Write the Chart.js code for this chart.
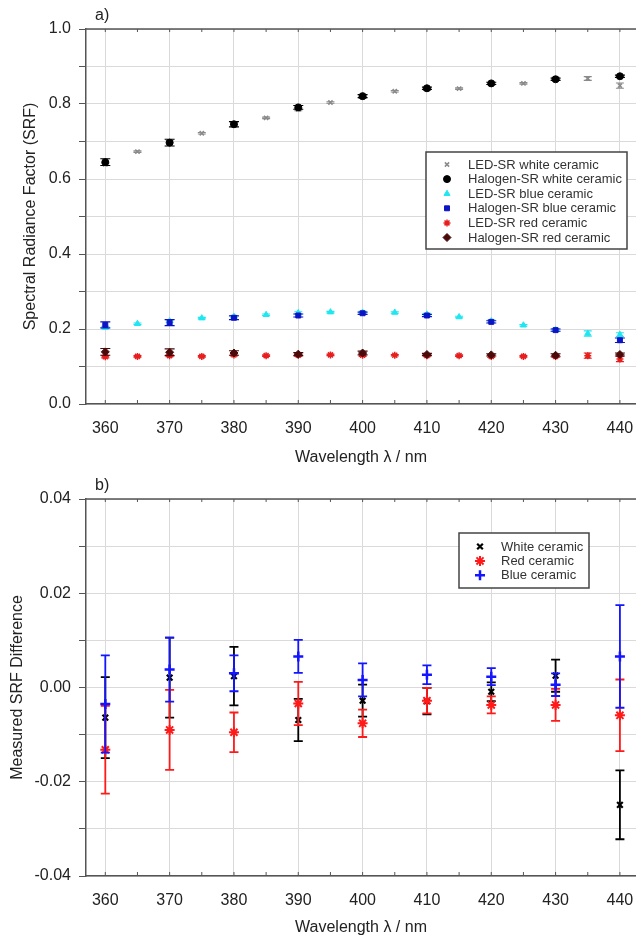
<!DOCTYPE html>
<html>
<head>
<meta charset="utf-8">
<script src="https://cdn.jsdelivr.net/npm/chart.js@4.4.1/dist/chart.umd.min.js"></script>
<style>
html, body { margin: 0; padding: 0; background: #fff; }
#panelA { position: absolute; left: 0; top: 0; width: 636px; height: 470px; }
#panelB { position: absolute; left: 0; top: 470px; width: 636px; height: 467px; }
</style>
</head>
<body>
<div id="panelA"><canvas id="srfChart"></canvas></div>
<div id="panelB"><canvas id="diffChart"></canvas></div>
<script>
// wavelengths (nm)
const ledWl = [360, 365, 370, 375, 380, 385, 390, 395, 400, 405, 410, 415, 420, 425, 430, 435, 440];
const halWl = [360, 370, 380, 390, 400, 410, 420, 430, 440];
const wlTicks = [360, 365, 370, 375, 380, 385, 390, 395, 400, 405, 410, 415, 420, 425, 430, 435, 440];

// a) spectral radiance factor, LED-SR every 5 nm, halogen-SR every 10 nm
const ledWhite = [0.639, 0.673, 0.699, 0.722, 0.748, 0.763, 0.785, 0.804, 0.818, 0.834, 0.839, 0.841, 0.854, 0.855, 0.868, 0.868, 0.849];
const ledWhiteErr = [0.003, 0.002, 0.003, 0.002, 0.003, 0.002, 0.003, 0.002, 0.003, 0.002, 0.003, 0.002, 0.003, 0.002, 0.003, 0.005, 0.007];
const halWhite = [0.645, 0.697, 0.746, 0.791, 0.821, 0.842, 0.855, 0.866, 0.874];
const halWhiteErr = [0.009, 0.009, 0.007, 0.005, 0.004, 0.003, 0.003, 0.003, 0.003];

const ledBlue = [0.204, 0.214, 0.221, 0.229, 0.233, 0.238, 0.243, 0.245, 0.244, 0.244, 0.239, 0.232, 0.221, 0.210, 0.198, 0.188, 0.185];
const ledBlueErr = [0.003, 0.002, 0.003, 0.002, 0.003, 0.002, 0.003, 0.002, 0.003, 0.002, 0.003, 0.002, 0.003, 0.002, 0.003, 0.007, 0.005];
const halBlue = [0.211, 0.217, 0.230, 0.236, 0.242, 0.236, 0.219, 0.197, 0.170];
const halBlueErr = [0.008, 0.008, 0.005, 0.004, 0.003, 0.003, 0.003, 0.003, 0.006];

const ledRed = [0.126, 0.127, 0.129, 0.127, 0.131, 0.129, 0.130, 0.131, 0.130, 0.130, 0.129, 0.129, 0.127, 0.127, 0.127, 0.129, 0.120];
const ledRedErr = [0.003, 0.002, 0.003, 0.002, 0.003, 0.002, 0.003, 0.002, 0.003, 0.002, 0.003, 0.002, 0.003, 0.002, 0.003, 0.007, 0.007];
const halRed = [0.139, 0.138, 0.136, 0.133, 0.136, 0.132, 0.131, 0.130, 0.132];
const halRedErr = [0.009, 0.009, 0.006, 0.004, 0.005, 0.003, 0.003, 0.004, 0.004];

// b) measured SRF difference (LED-SR minus halogen-SR)
const diffWl = [360, 370, 380, 390, 400, 410, 420, 430, 440];
const whiteDiff = [-0.0064, 0.0021, 0.0024, -0.0069, -0.0028, -0.0029, -0.0009, 0.0025, -0.0249];
const whiteDiffErr = [0.0086, 0.0085, 0.0062, 0.0045, 0.0034, 0.0028, 0.0020, 0.0034, 0.0073];
const redDiff = [-0.0132, -0.0090, -0.0095, -0.0034, -0.0076, -0.0028, -0.0037, -0.0037, -0.0059];
const redDiffErr = [0.0093, 0.0085, 0.0042, 0.0046, 0.0029, 0.0027, 0.0018, 0.0034, 0.0076];
const blueDiff = [-0.0035, 0.0038, 0.0030, 0.0066, 0.0016, 0.0027, 0.0023, 0.0006, 0.0066];
const blueDiffErr = [0.0103, 0.0068, 0.0038, 0.0035, 0.0035, 0.0020, 0.0018, 0.0024, 0.0109];

const fontFamily = "'Liberation Sans', Arial, sans-serif";
const textColor = '#222';
const gridColor = '#dadada';
const axisColor = '#555';

const toPoints = (xs, ys) => xs.map((x, i) => ({ x: x, y: ys[i] }));

// vertical error bars with caps, drawn just before each dataset's markers
const errorBars = {
    id: 'errorBars',
    beforeDatasetDraw(chart, args) {
        const ds = chart.data.datasets[args.index];
        if (!ds.errors) return;
        const { ctx, chartArea, scales: { x, y } } = chart;
        const cap = ds.capSize || 4;
        ctx.save();
        ctx.beginPath();
        ctx.rect(chartArea.left, chartArea.top, chartArea.right - chartArea.left, chartArea.bottom - chartArea.top);
        ctx.clip();
        ctx.strokeStyle = ds.borderColor;
        ctx.lineWidth = ds.errorWidth || 1.2;
        ds.data.forEach((p, i) => {
            const e = ds.errors[i];
            const px = x.getPixelForValue(p.x);
            const top = y.getPixelForValue(p.y + e);
            const bot = y.getPixelForValue(p.y - e);
            ctx.beginPath();
            ctx.moveTo(px, top); ctx.lineTo(px, bot);
            ctx.moveTo(px - cap, top); ctx.lineTo(px + cap, top);
            ctx.moveTo(px - cap, bot); ctx.lineTo(px + cap, bot);
            ctx.stroke();
        });
        ctx.restore();
    }
};

// top frame line, small inside ticks, panel letter and the boxed legend
const frame = {
    id: 'frame',
    afterDraw(chart, args, opts) {
        const { ctx, chartArea: a, scales: { x } } = chart;
        ctx.save();
        ctx.strokeStyle = axisColor;
        ctx.lineWidth = 1.5;
        ctx.beginPath();
        ctx.moveTo(a.left, a.top); ctx.lineTo(a.right, a.top);
        ctx.stroke();
        ctx.lineWidth = 1;
        wlTicks.forEach(v => {
            const px = x.getPixelForValue(v);
            ctx.beginPath();
            ctx.moveTo(px, a.top); ctx.lineTo(px, a.top + 3);
            ctx.moveTo(px, a.bottom); ctx.lineTo(px, a.bottom - 4);
            ctx.stroke();
        });

        ctx.fillStyle = textColor;
        ctx.font = '16px ' + fontFamily;
        ctx.textBaseline = 'middle';
        ctx.fillText(opts.letter, a.left + 9, a.top - 13);

        const lg = opts.legend;
        ctx.fillStyle = '#fff';
        ctx.fillRect(lg.x, lg.y, lg.w, lg.h);
        ctx.strokeStyle = '#444';
        ctx.lineWidth = 1.5;
        ctx.strokeRect(lg.x, lg.y, lg.w, lg.h);
        ctx.font = lg.fontSize + 'px ' + fontFamily;
        lg.order.forEach((di, row) => {
            const ds = chart.data.datasets[di];
            const cy = lg.y + lg.first + row * lg.rowH;
            ctx.fillStyle = ds.backgroundColor;
            ctx.strokeStyle = ds.borderColor;
            ctx.lineWidth = ds.borderWidth;
            Chart.helpers.drawPoint(ctx, {
                pointStyle: ds.pointStyle,
                radius: ds.legendRadius || ds.pointRadius,
                borderWidth: ds.borderWidth,
                rotation: 0
            }, lg.markerX, cy);
            ctx.fillStyle = '#333';
            ctx.fillText(ds.label, lg.textX, cy + 0.5);
        });
        ctx.restore();
    }
};

const tickFont = { family: fontFamily, size: 16 };

const xScale = (height, titleBottom) => ({
    type: 'linear',
    min: 357,
    max: 442.5,
    afterBuildTicks: s => { s.ticks = wlTicks.map(v => ({ value: v })); },
    afterFit: s => {
        s.height = height;
        // the plot runs to the right edge; labels may overhang
        s.paddingLeft = 0;
        s.paddingRight = 0;
    },
    ticks: {
        callback: v => (v % 10 === 0 ? String(v) : ''),
        font: tickFont, color: textColor, padding: 15,
        maxRotation: 0, autoSkip: false
    },
    grid: {
        color: c => (c.tick && c.tick.value % 10 === 0 ? gridColor : 'rgba(0,0,0,0)'),
        drawTicks: false
    },
    border: { color: axisColor, width: 1.5 },
    title: {
        display: true, text: 'Wavelength \u03bb / nm',
        font: tickFont, color: textColor,
        padding: { top: 4, bottom: titleBottom }
    }
});

const srfChart = new Chart(document.getElementById('srfChart'), {
    type: 'scatter',
    data: {
        datasets: [
            { label: 'LED-SR white ceramic', data: toPoints(ledWl, ledWhite), errors: ledWhiteErr,
              pointStyle: 'crossRot', pointRadius: 3, borderWidth: 1.5, legendRadius: 3,
              borderColor: '#8a8a8a', backgroundColor: '#8a8a8a', order: 2 },
            { label: 'Halogen-SR white ceramic', data: toPoints(halWl, halWhite), errors: halWhiteErr,
              pointStyle: 'circle', pointRadius: 3.5, borderWidth: 1, capSize: 5,
              borderColor: '#000', backgroundColor: '#000', order: 1 },
            { label: 'LED-SR blue ceramic', data: toPoints(ledWl, ledBlue), errors: ledBlueErr,
              pointStyle: 'triangle', pointRadius: 3.5, borderWidth: 1,
              borderColor: '#1fe6f0', backgroundColor: '#1fe6f0', order: 2 },
            { label: 'Halogen-SR blue ceramic', data: toPoints(halWl, halBlue), errors: halBlueErr,
              pointStyle: 'rect', pointRadius: 3.5, borderWidth: 1, capSize: 5,
              borderColor: '#0c14c4', backgroundColor: '#0c14c4', order: 1 },
            { label: 'LED-SR red ceramic', data: toPoints(ledWl, ledRed), errors: ledRedErr,
              pointStyle: 'star', pointRadius: 3.5, borderWidth: 1.5,
              borderColor: '#e81e1e', backgroundColor: '#e81e1e', order: 2 },
            { label: 'Halogen-SR red ceramic', data: toPoints(halWl, halRed), errors: halRedErr,
              pointStyle: 'rectRot', pointRadius: 4, borderWidth: 1, capSize: 5,
              borderColor: '#4a0a0a', backgroundColor: '#4a0a0a', order: 1 }
        ]
    },
    options: {
        responsive: true,
        maintainAspectRatio: false,
        animation: false,
        layout: { autoPadding: false, padding: { top: 29, left: 0, right: 0, bottom: 0 } },
        scales: {
            x: xScale(66, 3),
            y: {
                min: 0, max: 1.0,
                afterFit: s => { s.width = 86; },
                ticks: {
                    stepSize: 0.1,
                    callback: v => (Math.round(v * 10) % 2 === 0 ? v.toFixed(1) : ''),
                    font: tickFont, color: textColor, padding: 8
                },
                grid: { color: gridColor, tickLength: 7, tickColor: axisColor },
                border: { color: axisColor, width: 1.5 },
                title: {
                    display: true, text: 'Spectral Radiance Factor (SRF)',
                    font: tickFont, color: textColor, padding: { top: 21, bottom: 0 }
                }
            }
        },
        plugins: {
            legend: { display: false },
            tooltip: { enabled: false },
            frame: {
                letter: 'a)',
                legend: { x: 426, y: 152, w: 201, h: 97, first: 12.5, rowH: 14.6,
                          markerX: 447, textX: 468, fontSize: 13, order: [0, 1, 2, 3, 4, 5] }
            }
        }
    },
    plugins: [errorBars, frame]
});

const diffChart = new Chart(document.getElementById('diffChart'), {
    type: 'scatter',
    data: {
        datasets: [
            { label: 'Blue ceramic', data: toPoints(diffWl, blueDiff), errors: blueDiffErr,
              pointStyle: 'cross', pointRadius: 5, borderWidth: 2.5, errorWidth: 1.8, capSize: 4.5,
              borderColor: '#1414ff', backgroundColor: '#1414ff', order: 1 },
            { label: 'Red ceramic', data: toPoints(diffWl, redDiff), errors: redDiffErr,
              pointStyle: 'star', pointRadius: 5, borderWidth: 2, errorWidth: 1.8, capSize: 4.5,
              borderColor: '#ff1a1a', backgroundColor: '#ff1a1a', order: 2 },
            { label: 'White ceramic', data: toPoints(diffWl, whiteDiff), errors: whiteDiffErr,
              pointStyle: 'crossRot', pointRadius: 4, borderWidth: 2.2, errorWidth: 1.8, capSize: 4.5,
              borderColor: '#000', backgroundColor: '#000', order: 3 }
        ]
    },
    options: {
        responsive: true,
        maintainAspectRatio: false,
        animation: false,
        layout: { autoPadding: false, padding: { top: 29, left: 0, right: 0, bottom: 0 } },
        scales: {
            x: xScale(61, 0),
            y: {
                min: -0.04, max: 0.04,
                afterFit: s => { s.width = 86; },
                ticks: {
                    stepSize: 0.01,
                    callback: v => {
                        const k = Math.round(v * 100);
                        return k % 2 === 0 ? (k / 100).toFixed(2) : '';
                    },
                    font: tickFont, color: textColor, padding: 8
                },
                grid: { color: gridColor, tickLength: 7, tickColor: axisColor },
                border: { color: axisColor, width: 1.5 },
                title: {
                    display: true, text: 'Measured SRF Difference',
                    font: tickFont, color: textColor, padding: { top: 8, bottom: 0 }
                }
            }
        },
        plugins: {
            legend: { display: false },
            tooltip: { enabled: false },
            frame: {
                letter: 'b)',
                legend: { x: 459, y: 63, w: 130, h: 55, first: 13.5, rowH: 14.4,
                          markerX: 480, textX: 501, fontSize: 13, order: [2, 1, 0] }
            }
        }
    },
    plugins: [errorBars, frame]
});
</script>
</body>
</html>
